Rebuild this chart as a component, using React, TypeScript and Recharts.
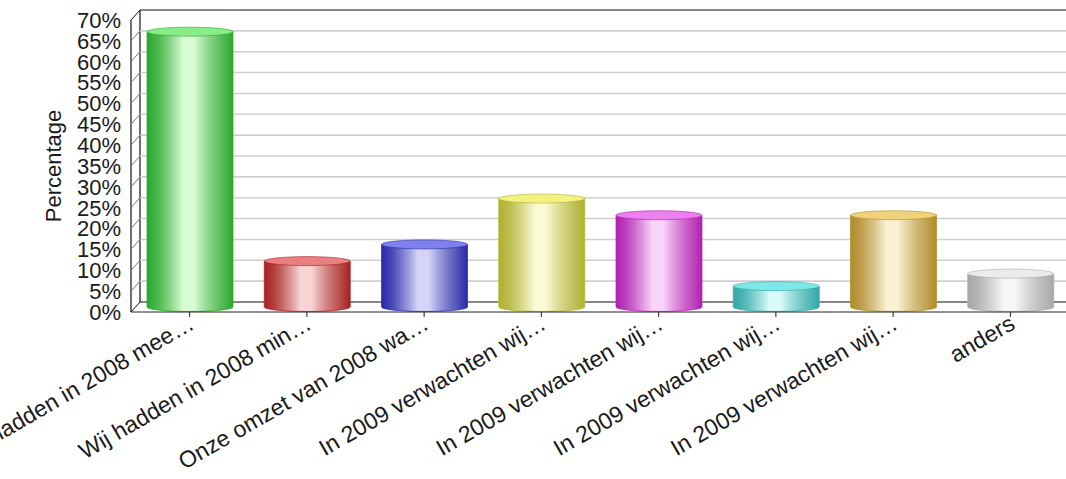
import React from 'react';
import { BarChart, Bar, XAxis, YAxis, CartesianGrid } from 'recharts';

const categories = [
    'Wij hadden in 2008 mee…',
    'Wij hadden in 2008 min…',
    'Onze omzet van 2008 wa…',
    'In 2009 verwachten wij…',
    'In 2009 verwachten wij…',
    'In 2009 verwachten wij…',
    'In 2009 verwachten wij…',
    'anders',
];
const percentages = [66, 11, 15, 26, 22, 5, 22, 8];
const yTicks = [0, 5, 10, 15, 20, 25, 30, 35, 40, 45, 50, 55, 60, 65, 70];

// edge / highlight / top-cap colours per cylinder
const palette = [
    { edge: '#2aa82a', light: '#d8fcd4', top: '#88ec88' },
    { edge: '#a82020', light: '#f8d4d4', top: '#e88080' },
    { edge: '#2828a8', light: '#d4d4f8', top: '#8080ee' },
    { edge: '#b0b030', light: '#fafad4', top: '#f2f280' },
    { edge: '#b020b0', light: '#f8d4f8', top: '#ec80ec' },
    { edge: '#30a8a8', light: '#d8fafa', top: '#7ee8e8' },
    { edge: '#b08c28', light: '#fbf0d4', top: '#f0d27a' },
    { edge: '#a8a8a8', light: '#f7f7f7', top: '#ececec' },
];

const data = categories.map((name, i) => ({ key: `c${i}`, name, value: percentages[i] }));

const W = 1080;
const H = 479;
const PLOT_LEFT = 131;
const PLOT_TOP = 20;
const PLOT_BOTTOM = 312;
const DX = 9;
const DY = 10;
const FONT = '"Liberation Sans", Arial, Helvetica, sans-serif';

const GridLine = (p: any) => {
    const { x1, x2, y1 } = p;
    const isTop = Math.abs(y1 - PLOT_TOP) < 0.5;
    const isBottom = Math.abs(y1 - PLOT_BOTTOM) < 0.5;
    const edge = isTop || isBottom;
    return (
        <g key={p.key}>
            <line
                x1={x1 + DX}
                y1={y1 - DY}
                x2={x2 + DX + 40}
                y2={y1 - DY}
                stroke={edge ? '#111' : '#cfcfcf'}
                strokeWidth={edge ? 1.2 : 1.6}
            />
            <line x1={x1} y1={y1} x2={x1 + DX} y2={y1 - DY} stroke={edge ? '#111' : '#777'} strokeWidth={1} />
            {isBottom && (
                <>
                    <line x1={x1 + DX} y1={PLOT_TOP - DY} x2={x1 + DX} y2={PLOT_BOTTOM - DY} stroke="#111" strokeWidth={1.2} />
                    <line x1={x1} y1={PLOT_TOP} x2={x1} y2={PLOT_BOTTOM} stroke="#111" strokeWidth={1.2} />
                </>
            )}
        </g>
    );
};

const Cylinder = (props: any) => {
    const { x, y, width, height, index } = props;
    const c = palette[index % palette.length];
    const rx = width / 2;
    const ry = 4.5;
    const top = y - DY / 2;
    const bottom = y + height - DY / 2;
    const id = `cyl-${index}`;
    const body = `M${x},${top} L${x},${bottom} A${rx},${ry} 0 0 0 ${x + width},${bottom} L${x + width},${top} Z`;
    return (
        <g>
            <defs>
                <linearGradient id={id} x1="0" y1="0" x2="1" y2="0">
                    <stop offset="0%" stopColor={c.edge} />
                    <stop offset="12%" stopColor={c.edge} stopOpacity={0.85} />
                    <stop offset="42%" stopColor={c.light} />
                    <stop offset="55%" stopColor={c.light} />
                    <stop offset="88%" stopColor={c.edge} stopOpacity={0.8} />
                    <stop offset="100%" stopColor={c.edge} />
                </linearGradient>
            </defs>
            <path d={body} fill="#fff" />
            <path d={body} fill={`url(#${id})`} stroke={c.edge} strokeOpacity={0.7} strokeWidth={1} />
            <ellipse cx={x + rx} cy={top} rx={rx} ry={ry} fill={c.top} stroke={c.edge} strokeOpacity={0.6} strokeWidth={1} />
        </g>
    );
};

const YTick = (props: any) => {
    const { y, payload } = props;
    return (
        <text x={PLOT_LEFT - 10} y={y} dy="0.36em" textAnchor="end" fontSize={22} fill="#1a1a1a" fontFamily={FONT}>
            {`${payload.value}%`}
        </text>
    );
};

const XTick = (props: any) => {
    const { x, y, payload } = props;
    const ax = x + 6;
    const ay = y + 9;
    const label = categories[payload.index] ?? '';
    return (
        <text
            x={ax}
            y={ay}
            textAnchor="end"
            fontSize={23}
            fill="#1a1a1a"
            fontFamily={FONT}
            transform={`rotate(-30 ${ax} ${ay})`}
        >
            {label}
        </text>
    );
};

const YLabel = (props: any) => {
    const vb = props.viewBox || {};
    const cx = 53;
    const cy = (vb.y ?? PLOT_TOP) + (vb.height ?? PLOT_BOTTOM - PLOT_TOP) / 2;
    return (
        <text
            x={cx}
            y={cy}
            textAnchor="middle"
            dominantBaseline="central"
            fontSize={22}
            fill="#1a1a1a"
            fontFamily={FONT}
            transform={`rotate(-90 ${cx} ${cy})`}
        >
            Percentage
        </text>
    );
};

export default function App() {
    return (
        <div style={{ position: 'absolute', left: 0, top: 0, width: 1066, height: H, overflow: 'hidden', background: '#fff' }}>
            <BarChart
                width={W}
                height={H}
                data={data}
                margin={{ top: PLOT_TOP, right: 11, left: PLOT_LEFT - 80, bottom: H - PLOT_BOTTOM - 120 }}
            >
                <CartesianGrid horizontal={GridLine} vertical={false} />
                <XAxis
                    dataKey="key"
                    height={120}
                    tick={<XTick />}
                    tickSize={5}
                    interval={0}
                    axisLine={{ stroke: '#222' }}
                    tickLine={{ stroke: '#222' }}
                />
                <YAxis
                    width={80}
                    domain={[0, 70]}
                    ticks={yTicks}
                    interval={0}
                    axisLine={false}
                    tickLine={false}
                    tick={<YTick />}
                    label={<YLabel />}
                />
                <Bar dataKey="value" barSize={86} shape={<Cylinder />} isAnimationActive={false} />
            </BarChart>
        </div>
    );
}
